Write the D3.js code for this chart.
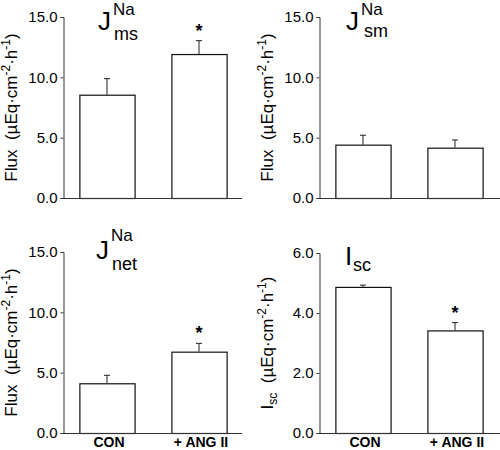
<!DOCTYPE html>
<html>
<head>
<meta charset="utf-8">
<script src="https://cdn.jsdelivr.net/npm/d3@7"></script>
<style>
  html, body { margin: 0; padding: 0; background: #fff; }
  svg { display: block; font-family: "Liberation Sans", Arial, sans-serif; }
</style>
</head>
<body>
<svg id="chart" width="500" height="450"></svg>
<script>
// ---- data ----
const categories = ["CON", "+ ANG II"];

const jmsMeans = [8.56, 11.93];
const jmsErrors = [1.33, 1.11];
const jsmMeans = [4.42, 4.17];
const jsmErrors = [0.78, 0.64];
const jnetMeans = [4.12, 6.74];
const jnetErrors = [0.66, 0.69];
const iscMeans = [4.87, 3.42];
const iscErrors = [0.06, 0.26];

const fluxTicks = [0, 5, 10, 15];
const iscTicks = [0, 2, 4, 6];

const jmsSignificant = [false, true];
const jsmSignificant = [false, false];
const jnetSignificant = [false, true];
const iscSignificant = [false, true];

// ---- layout ----
const svg = d3.select("#chart");
const fmt = d3.format(".1f");

const panels = [
  { means: jmsMeans, errors: jmsErrors, sig: jmsSignificant, ticks: fluxTicks, max: 15,
    ax: 63, yTop: 17, yBot: 198, right: 242, main: "J", sup: "Na", sub: "ms",
    tx: 98, ty: 30, supDx: 15, supY: 15, subDx: 16, subY: 40, label: "Flux", showX: false },
  { means: jsmMeans, errors: jsmErrors, sig: jsmSignificant, ticks: fluxTicks, max: 15,
    ax: 319, yTop: 17, yBot: 198, right: 500, main: "J", sup: "Na", sub: "sm",
    tx: 346, ty: 30, supDx: 15, supY: 15, subDx: 18, subY: 37, label: "Flux", showX: false },
  { means: jnetMeans, errors: jnetErrors, sig: jnetSignificant, ticks: fluxTicks, max: 15,
    ax: 63, yTop: 252, yBot: 433, right: 242, main: "J", sup: "Na", sub: "net",
    tx: 96, ty: 259, supDx: 15, supY: 241, subDx: 16, subY: 270, label: "Flux", showX: true },
  { means: iscMeans, errors: iscErrors, sig: iscSignificant, ticks: iscTicks, max: 6,
    ax: 319, yTop: 253, yBot: 433, right: 500, main: "I", sup: "", sub: "sc",
    tx: 345, ty: 265, supDx: 0, supY: 0, subDx: 8, subY: 271, label: "I", showX: true }
];

panels.forEach(p => {
  const g = svg.append("g");
  const y = d3.scaleLinear().domain([0, p.max]).range([p.yBot, p.yTop]);
  const x = d3.scaleBand().domain(categories).range([p.ax, p.ax + 180])
    .paddingInner(0.4).paddingOuter(0.178);

  const data = categories.map((c, i) => ({ c, m: p.means[i], e: p.errors[i], s: p.sig[i] }));

  // error bars (upper only)
  data.forEach(d => {
    const cx = x(d.c) + x.bandwidth() / 2;
    g.append("line").attr("x1", cx).attr("x2", cx)
      .attr("y1", y(d.m)).attr("y2", y(d.m + d.e))
      .attr("stroke", "#222").attr("stroke-width", 1);
    g.append("line").attr("x1", cx - 3).attr("x2", cx + 3)
      .attr("y1", y(d.m + d.e)).attr("y2", y(d.m + d.e))
      .attr("stroke", "#222").attr("stroke-width", 1);
    if (d.s) {
      g.append("text").attr("x", cx).attr("y", y(d.m + d.e) - 4)
        .attr("text-anchor", "middle").attr("font-size", 18).attr("font-weight", "bold")
        .attr("fill", "#000").text("*");
    }
  });

  g.selectAll("rect").data(data).join("rect")
    .attr("x", d => x(d.c) + 0.5)
    .attr("y", d => y(d.m) + 0.5)
    .attr("width", x.bandwidth())
    .attr("height", d => y(0) - y(d.m))
    .attr("fill", "#fff").attr("stroke", "#111").attr("stroke-width", 1.2);

  // y axis
  const yAxis = d3.axisLeft(y).tickValues(p.ticks).tickFormat(fmt).tickSizeOuter(0).tickSize(3).tickPadding(3);
  const ya = g.append("g").attr("transform", `translate(${p.ax + 0.5},0)`).call(yAxis);
  ya.select(".domain").attr("stroke", "#333");
  ya.selectAll(".tick line").attr("stroke", "#333");
  ya.selectAll(".tick text").attr("font-size", 15).attr("fill", "#000")
    .attr("font-family", "Liberation Sans, Arial, sans-serif");

  // x axis line
  g.append("line").attr("x1", p.ax).attr("x2", p.right)
    .attr("y1", y(0) + 0.5).attr("y2", y(0) + 0.5)
    .attr("stroke", "#333").attr("stroke-width", 1);

  if (p.showX) {
    g.selectAll("text.cat").data(categories).join("text").attr("class", "cat")
      .attr("x", d => x(d) + x.bandwidth() / 2 + 2)
      .attr("y", 447)
      .attr("text-anchor", "middle").attr("font-size", 14).attr("font-weight", "bold")
      .attr("fill", "#000").text(d => d);
  }

  // title
  g.append("text").attr("x", p.tx).attr("y", p.ty).attr("font-size", 26)
    .attr("fill", "#000").text(p.main);
  if (p.sup) {
    g.append("text").attr("x", p.tx + p.supDx).attr("y", p.supY).attr("font-size", 17)
      .attr("fill", "#000").text(p.sup);
  }
  g.append("text").attr("x", p.tx + p.subDx).attr("y", p.subY).attr("font-size", 18)
    .attr("fill", "#000").text(p.sub);

  // y label
  const cy = (p.yTop + p.yBot) / 2;
  const lab = g.append("text")
    .attr("transform", `translate(${p.ax - 46},${cy}) rotate(-90)`)
    .attr("text-anchor", "middle").attr("font-size", 17).attr("fill", "#000");
  lab.append("tspan").text(p.label);
  if (p.label === "I") {
    lab.append("tspan").attr("font-size", 12).attr("dy", 4).text("sc");
    lab.append("tspan").attr("dy", -4).text("\u00a0\u00a0(\u00b5Eq\u00b7cm");
  } else {
    lab.append("tspan").text("\u00a0\u00a0(\u00b5Eq\u00b7cm");
  }
  lab.append("tspan").attr("font-size", 12).attr("dy", -7).text("-2");
  lab.append("tspan").attr("dy", 7).text("\u00b7h");
  lab.append("tspan").attr("font-size", 12).attr("dy", -7).text("-1");
  lab.append("tspan").attr("dy", 7).text(")");
});
</script>
</body>
</html>
